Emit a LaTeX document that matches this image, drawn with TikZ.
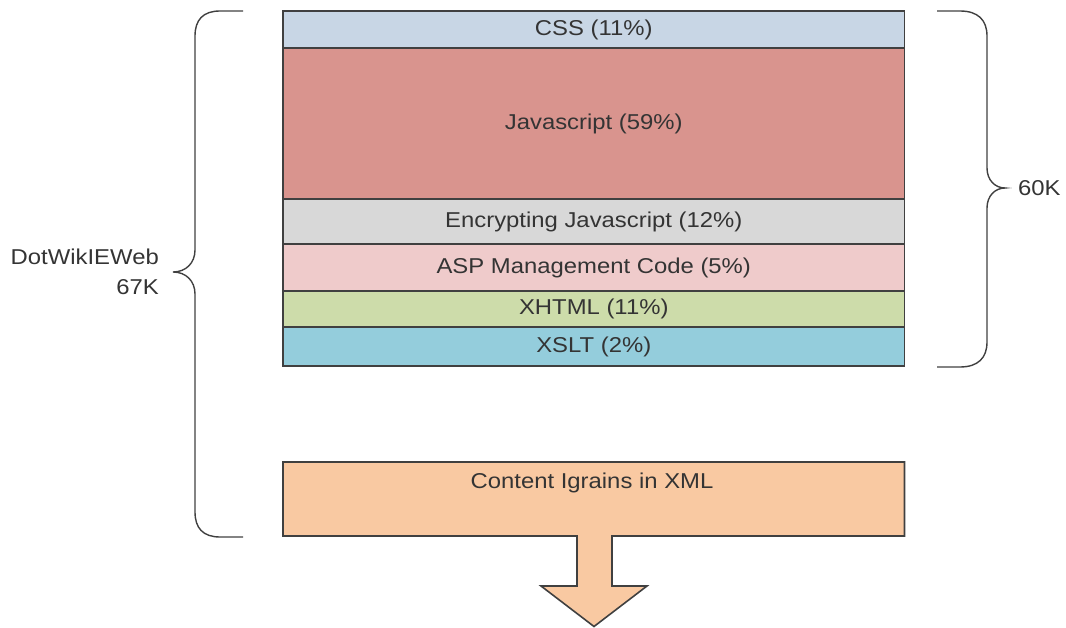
\documentclass[tikz,border=0pt]{standalone}
\usepackage{fontspec}
\setmainfont[FakeStretch=1.11]{Liberation Sans}
\usepackage{tikz}
\definecolor{figLine}{RGB}{64,64,64}
\definecolor{figText}{RGB}{52,52,52}
\definecolor{cssC}{RGB}{200,214,229}
\definecolor{jsC}{RGB}{217,148,142}
\definecolor{encC}{RGB}{216,216,216}
\definecolor{aspC}{RGB}{239,203,203}
\definecolor{xhtmlC}{RGB}{205,220,170}
\definecolor{xsltC}{RGB}{148,205,220}
\definecolor{xmlC}{RGB}{249,201,162}

\begin{document}
\begin{tikzpicture}[x=1pt,y=-1pt,
  band/.style={draw=figLine,line width=1.6pt,minimum width=621.5,inner sep=0pt,text=figText,
     font=\fontsize{21.5}{25}\selectfont},
  lbl/.style={text=figText,inner sep=0pt,font=\fontsize{21.5}{30}\selectfont},
  brace/.style={draw=figLine,line width=1.4pt}]
\useasboundingbox (0,0) rectangle (1066,628);
% the stack of code parts
\node[band,fill=cssC,minimum height=37] (css) at (593.75,29.5) {CSS (11\%)};
\node[band,fill=jsC,minimum height=151] (js) at (593.75,123.5) {Javascript (59\%)};
\node[band,fill=encC,minimum height=45] (encjs) at (593.75,221.5) {Encrypting Javascript (12\%)};
\node[band,fill=aspC,minimum height=47] (asp) at (593.75,267.5) {ASP Management Code (5\%)};
\node[band,fill=xhtmlC,minimum height=36] (xhtml) at (593.75,309) {XHTML (11\%)};
\node[band,fill=xsltC,minimum height=39] (xslt) at (593.75,346.5) {XSLT (2\%)};
% content box with its arrow
\draw[figLine,line width=1.6pt,fill=xmlC] (283,462) -- (904.5,462) -- (904.5,536) -- (612,536) -- (612,586)
  -- (647,586) -- (594,626.5) -- (541,586) -- (577,586) -- (577,536) -- (283,536) -- cycle;
\node[lbl] (xml) at (592,483) {Content Igrains in XML};
% braces
\draw[brace] (243,11) -- (220,11) .. controls (203,11) and (195,20) .. (195,36) -- (195,250)
  .. controls (195,263) and (186,272) .. (173,272) .. controls (186,272) and (195,281) .. (195,294)
  -- (195,512) .. controls (195,528) and (203,537) .. (220,537) -- (243,537);
\draw[brace] (937,11) -- (960,11) .. controls (978,11) and (987,20) .. (987,36) -- (987,168)
  .. controls (987,180) and (995,188) .. (1005,188) .. controls (995,188) and (987,196) .. (987,208)
  -- (987,342) .. controls (987,358) and (978,367) .. (960,367) -- (937,367);
\node[lbl,anchor=west] (sub) at (1018,188) {60K};
\node[lbl,anchor=east,align=right] (total) at (159,272) {DotWikIEWeb\\67K};
\end{tikzpicture}
\end{document}
